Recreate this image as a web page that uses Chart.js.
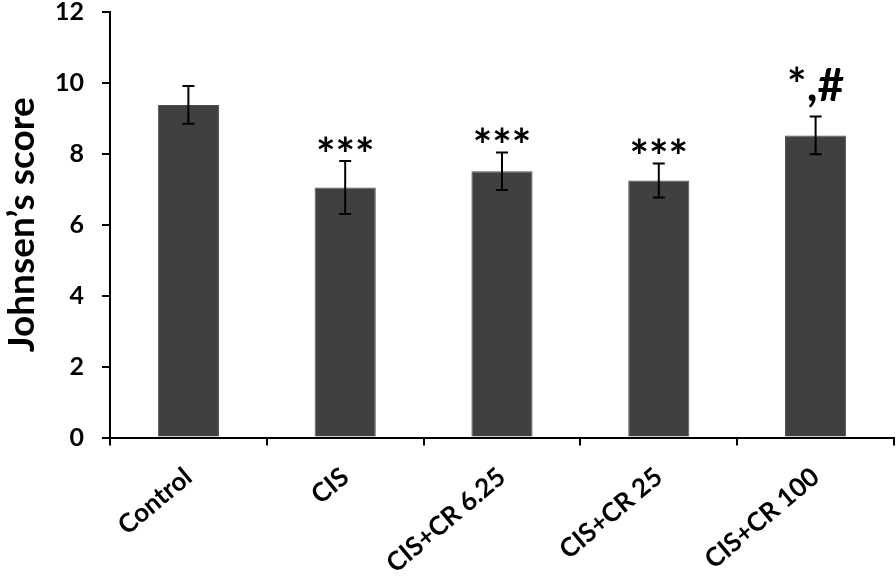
<!DOCTYPE html>
<html>
<head>
<meta charset="utf-8">
<script src="https://cdn.jsdelivr.net/npm/chart.js@4.4.1/dist/chart.umd.min.js"></script>
<style>
html,body{margin:0;padding:0;background:#fff;}
#wrap{width:896px;height:577px;}
</style>
</head>
<body>
<div id="wrap"><canvas id="c" width="896" height="577"></canvas></div>
<script>
const categories = ["Control", "CIS", "CIS+CR 6.25", "CIS+CR 25", "CIS+CR 100"];
const means = [9.38, 7.05, 7.51, 7.25, 8.52];
const errors = [0.53, 0.75, 0.53, 0.48, 0.53];
const marks = ["", "***", "***", "***", "*,#"];
const yTicks = [0, 2, 4, 6, 8, 10, 12];

const FONT = "Lato, 'Open Sans', sans-serif";

const errorBarPlugin = {
  id: 'errorBars',
  afterDatasetsDraw(chart) {
    const ctx = chart.ctx;
    const xs = chart.scales.x, ys = chart.scales.y;
    ctx.save();
    ctx.strokeStyle = '#000';
    ctx.lineWidth = 2;
    means.forEach((m, i) => {
      const x = xs.getPixelForValue(i);
      const yTop = ys.getPixelForValue(m + errors[i]);
      const yBot = ys.getPixelForValue(m - errors[i]);
      ctx.beginPath();
      ctx.moveTo(x, yTop); ctx.lineTo(x, yBot);
      ctx.moveTo(x - 6, yTop); ctx.lineTo(x + 6, yTop);
      ctx.moveTo(x - 6, yBot); ctx.lineTo(x + 6, yBot);
      ctx.stroke();
      if (marks[i]) {
        ctx.fillStyle = '#000';
        ctx.textAlign = 'center';
        ctx.textBaseline = 'alphabetic';
        ctx.font = "bold 46px " + FONT;
        const mt = ctx.measureText(marks[i]);
        const gap = marks[i] === "*,#" ? 9 : 9;
        ctx.fillText(marks[i], x, yTop - gap - mt.actualBoundingBoxDescent);
      }
    });
    ctx.restore();
  }
};

new Chart(document.getElementById('c'), {
  type: 'bar',
  data: {
    labels: categories,
    datasets: [{
      data: means,
      backgroundColor: '#404040',
      borderColor: '#505050',
      borderWidth: 1,
      categoryPercentage: 0.39,
      barPercentage: 1.0
    }]
  },
  options: {
    responsive: false,
    animation: false,
    devicePixelRatio: 1,
    layout: { padding: { left: 0, right: 2, top: 0, bottom: 0 } },
    plugins: { legend: { display: false }, tooltip: { enabled: false } },
    scales: {
      x: {
        offset: true,
        grid: { offset: true, drawOnChartArea: false, drawTicks: true, tickLength: 8, color: '#000', lineWidth: 2 },
        border: { display: true, color: '#000', width: 2 },
        ticks: {
          color: '#000',
          font: { family: FONT, size: 26, weight: 'bold' },
          maxRotation: 40, minRotation: 40,
          padding: 16
        },
        afterFit(s) { s.height = 139.5; s.paddingLeft = 0; s.paddingRight = 2; }
      },
      y: {
        min: 0, max: 12,
        afterBuildTicks(s) { s.ticks = yTicks.map(v => ({ value: v })); },
        grid: { drawOnChartArea: false, drawTicks: true, tickLength: 8, color: '#000', lineWidth: 2 },
        border: { display: true, color: '#000', width: 2 },
        ticks: {
          color: '#000',
          font: { family: FONT, size: 25, weight: 'bold' },
          padding: 18
        },
        title: {
          display: true,
          text: 'Johnsen\u2019s score',
          color: '#000',
          font: { family: FONT, size: 37, weight: 'bold' },
          padding: { top: 0, bottom: 22 }
        },
        afterFit(s) { s.width = 110; s.paddingTop = 12; s.paddingBottom = 0; }
      }
    }
  },
  plugins: [errorBarPlugin]
});
</script>
</body>
</html>
